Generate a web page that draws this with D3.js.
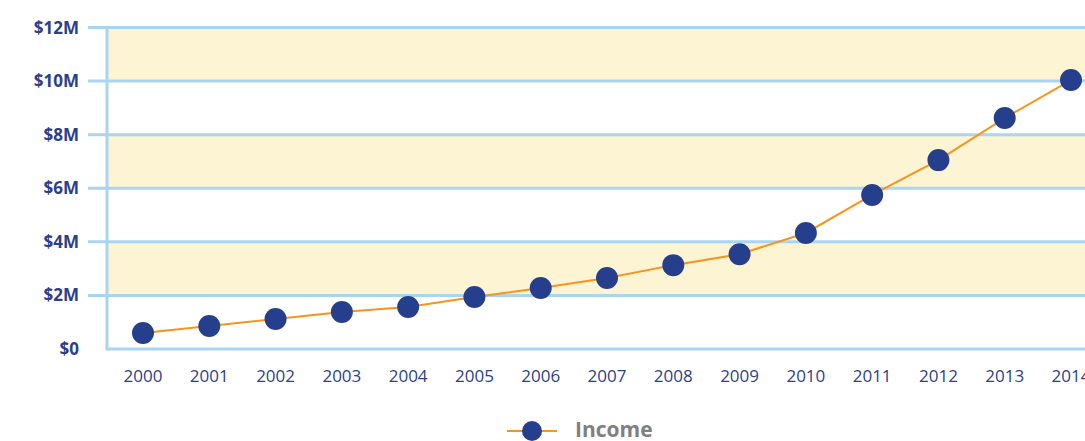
<!DOCTYPE html>
<html>
<head>
<meta charset="utf-8">
<script src="https://cdn.jsdelivr.net/npm/d3@7"></script>
<style>
  body { margin: 0; background: #fff; }
  svg { display: block; }
</style>
</head>
<body>
<div id="graph"></div>
<script>
// data
var years = [2000, 2001, 2002, 2003, 2004, 2005, 2006, 2007, 2008, 2009, 2010, 2011, 2012, 2013, 2014];
var income = [0.6, 0.86, 1.12, 1.38, 1.57, 1.94, 2.28, 2.65, 3.13, 3.54, 4.33, 5.75, 7.05, 8.62, 10.04]; // $M
var yTicks = [0, 2, 4, 6, 8, 10, 12];
var bands = [[2, 4], [6, 8], [10, 12]];

const W = 1085, H = 441;
const plotLeft = 107, plotRight = 1085, plotTop = 27.5, plotBottom = 349;

var svg = d3.select("#graph").append("svg")
    .attr("width", W)
    .attr("height", H);

var x = d3.scaleLinear().domain([2000, 2014]).range([143, 1071]);
var y = d3.scaleLinear().domain([0, 12]).range([plotBottom, plotTop]);

// shaded bands
svg.append("g").selectAll("rect")
    .data(bands)
    .enter().append("rect")
    .attr("x", plotLeft)
    .attr("width", plotRight - plotLeft)
    .attr("y", d => y(d[1]))
    .attr("height", d => y(d[0]) - y(d[1]))
    .attr("fill", "#fdf4d3");

// gridlines
svg.append("g").selectAll("line")
    .data(yTicks.filter(d => d > 0))
    .enter().append("line")
    .attr("x1", 88).attr("x2", plotRight)
    .attr("y1", d => y(d)).attr("y2", d => y(d))
    .attr("stroke", "#a9d5f1")
    .attr("stroke-width", 3);

// axes lines
svg.append("line")
    .attr("x1", plotLeft).attr("x2", plotLeft)
    .attr("y1", plotTop - 1.5).attr("y2", plotBottom)
    .attr("stroke", "#a9d5f1").attr("stroke-width", 3);
svg.append("line")
    .attr("x1", plotLeft - 1.5).attr("x2", plotRight)
    .attr("y1", plotBottom).attr("y2", plotBottom)
    .attr("stroke", "#a9d5f1").attr("stroke-width", 3);

// y labels
svg.append("g").selectAll("text")
    .data(yTicks)
    .enter().append("text")
    .attr("x", 79)
    .attr("y", d => y(d) + 6)
    .attr("text-anchor", "end")
    .attr("font-family", "'Open Sans', sans-serif")
    .attr("font-weight", "bold")
    .attr("font-size", 17)
    .attr("fill", "#2b3f8c")
    .text(d => "$" + d + (d ? "M" : ""));

// x labels
svg.append("g").selectAll("text")
    .data(years)
    .enter().append("text")
    .attr("x", d => x(d))
    .attr("y", 382)
    .attr("text-anchor", "middle")
    .attr("font-family", "'Open Sans', sans-serif")
    .attr("font-size", 17)
    .attr("fill", "#2b3f8c")
    .text(d => d);

// line
var line = d3.line()
    .x((d, i) => x(years[i]))
    .y(d => y(d));

svg.append("path")
    .attr("d", line(income))
    .attr("fill", "none")
    .attr("stroke", "#f7941d")
    .attr("stroke-width", 2);

svg.append("g").selectAll("circle")
    .data(income)
    .enter().append("circle")
    .attr("cx", (d, i) => x(years[i]))
    .attr("cy", d => y(d))
    .attr("r", 11)
    .attr("fill", "#263f8d");

// legend
var lg = svg.append("g");
lg.append("line")
    .attr("x1", 507).attr("x2", 557)
    .attr("y1", 431).attr("y2", 431)
    .attr("stroke", "#f7941d").attr("stroke-width", 2);
lg.append("circle")
    .attr("cx", 532).attr("cy", 431).attr("r", 10)
    .attr("fill", "#263f8d");
lg.append("text")
    .attr("x", 575).attr("y", 437)
    .attr("font-family", "'Open Sans', sans-serif")
    .attr("font-weight", "bold")
    .attr("font-size", 21)
    .attr("fill", "#808080")
    .text("Income");
</script>
</body>
</html>
